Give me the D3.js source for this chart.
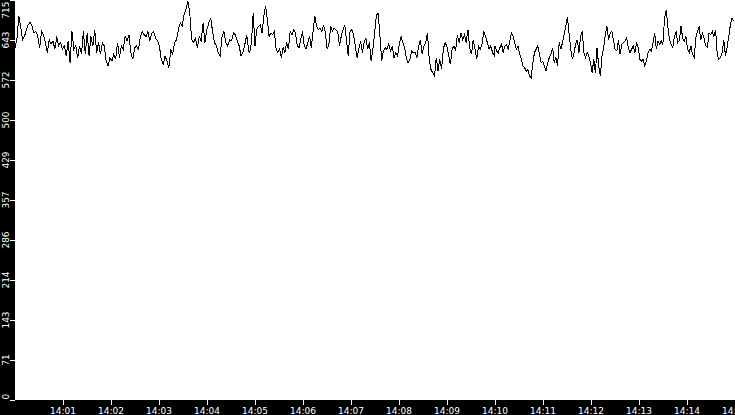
<!DOCTYPE html>
<meta charset="utf-8">
<style>
    body { margin: 0; background: #fff; }
    svg { display: block; }
    .axis text { fill: #fff; font: 9px "DejaVu Sans", sans-serif; }
    .axis line { stroke: #fff; shape-rendering: crispEdges; }
    .line { fill: none; stroke: #000; stroke-width: 1; shape-rendering: crispEdges; }
</style>
<body>
<script src="https://cdn.jsdelivr.net/npm/d3@7"></script>
<script>
    // values, three stretches of the trace
    // each stretch is evenly spaced between its first and last second after 14:00
    var spanA = [0.6, 292.7];
    var valuesA = [629, 643, 685, 667, 643, 649, 661, 670, 674, 667,
        655, 658, 649, 629, 658, 652, 638, 620, 643, 635,
        641, 626, 649, 632, 638, 626, 632, 614, 641, 602,
        658, 626, 632, 611, 632, 617, 658, 617, 655, 614,
        649, 632, 661, 620, 638, 617, 638, 632, 605, 596,
        611, 605, 617, 608, 638, 611, 632, 626, 649, 641,
        652, 620, 608, 629, 632, 626, 649, 658, 652, 649,
        658, 641, 655, 658, 646, 641, 632, 608, 599, 614,
        605, 593, 626, 617, 638, 643, 661, 673, 667, 688,
        697, 712, 691, 643, 638, 646, 629, 649, 641, 673,
        638, 661, 673, 682, 658, 638, 632, 620, 614, 649,
        658, 638, 632, 643, 641, 655, 652, 641, 632, 614,
        620, 635, 652, 623];

    var spanB = [294.0, 599.8];
    var valuesB = [620, 638, 691, 632, 661, 667, 670, 655, 685, 704,
        679, 649, 655, 652, 658, 626, 620, 626, 611, 629,
        620, 638, 626, 658, 652, 661, 655, 632, 629, 643,
        658, 632, 626, 638, 649, 629, 658, 686, 667, 661,
        664, 658, 670, 655, 626, 635, 667, 658, 664, 661,
        658, 632, 649, 661, 670, 643, 614, 658, 661, 652,
        632, 611, 626, 641, 620, 638, 646, 626, 638, 605,
        626, 655, 688, 690, 649, 605, 623, 629, 626, 635,
        623, 632, 611, 620, 614, 635, 649, 638, 629, 611,
        602, 608, 623, 620, 620, 611, 632, 643, 617, 632,
        638, 655, 608, 590, 584, 578, 611, 587, 608, 590,
        626, 638, 632, 617, 599, 626, 632, 623, 652, 638,
        655, 643, 652, 638, 661, 629, 617, 643, 626, 608,
        632, 626, 635, 658, 649, 638, 626, 632, 620, 614];

    var spanC = [600.6, 899.0];
    var valuesC = [632, 623, 620, 629, 635, 620, 632, 635, 626, 641,
        655, 649, 638, 626, 632, 617, 608, 596, 593, 587,
        590, 578, 575, 602, 620, 626, 632, 617, 602, 605,
        596, 587, 602, 611, 617, 629, 602, 611, 596, 638,
        626, 638, 652, 667, 684, 655, 626, 608, 620, 635,
        643, 620, 649, 658, 620, 611, 620, 614, 602, 584,
        608, 584, 629, 596, 578, 614, 629, 652, 667, 643,
        655, 658, 641, 626, 623, 643, 617, 635, 638, 641,
        646, 629, 620, 626, 632, 620, 638, 629, 608, 605,
        608, 596, 605, 620, 626, 623, 638, 655, 626, 641,
        635, 641, 635, 682, 696, 667, 643, 635, 629, 649,
        658, 638, 641, 667, 646, 641, 649, 626, 620, 632,
        617, 611, 646, 658, 667, 643, 655, 646, 632, 629,
        655, 652, 658, 649, 661, 617, 608, 611, 620, 643,
        614, 629, 649, 670, 682, 676];

    var yTicks = [0, 71.5, 143, 214.5, 286, 357.5, 429, 500.5, 572, 643.5, 715];
    var xTickMinutes = [1, 2, 3, 4, 5, 6, 7, 8, 9, 10, 11, 12, 13, 14, 15];

    var width = 735, height = 415;
    var stripLeft = 15, stripBottom = 15;
    var t0 = new Date(2024, 0, 1, 14, 0, 0);

    // put the stretches together as [time, value]
    var points = [];
    [[spanA, valuesA], [spanB, valuesB], [spanC, valuesC]].forEach(function (s) {
        var span = s[0], vals = s[1];
        var step = (span[1] - span[0]) / (vals.length - 1);
        vals.forEach(function (v, i) {
            points.push([new Date(t0.getTime() + (span[0] + i * step) * 1000), v]);
        });
    });

    var svg = d3.select("body").append("svg")
        .attr("width", width)
        .attr("height", height);

    var x = d3.scaleTime()
        .domain([t0, d3.timeMinute.offset(t0, 15)])
        .range([stripLeft - 0.5, width - 0.5]);

    var y = d3.scaleLinear()
        .domain([0, 715])
        .range([height - stripBottom - 0.5, -0.5]);

    svg.append("path")
        .datum(points)
        .attr("class", "line")
        .attr("d", d3.line()
            .x(d => x(d[0]))
            .y(d => y(d[1])));

    // black strips under the axes
    svg.append("rect")
        .attr("x", 0).attr("y", height - stripBottom)
        .attr("width", width).attr("height", stripBottom)
        .attr("fill", "#000");
    svg.append("rect")
        .attr("x", 0).attr("y", 0)
        .attr("width", stripLeft).attr("height", height)
        .attr("fill", "#000");

    // bottom axis
    var xAxis = svg.append("g")
        .attr("class", "axis")
        .attr("transform", "translate(0," + (height - stripBottom) + ")")
        .call(d3.axisBottom(x)
            .tickValues(xTickMinutes.map(m => d3.timeMinute.offset(t0, m)))
            .tickFormat(d3.timeFormat("%H:%M"))
            .tickSize(5)
            .tickPadding(1));
    xAxis.select(".domain").remove();
    xAxis.selectAll("text").attr("dy", "0.85em");

    // left axis, labels turned up the strip
    var yAxis = svg.append("g")
        .attr("class", "axis")
        .attr("transform", "translate(" + stripLeft + ",0)")
        .call(d3.axisLeft(y)
            .tickValues(yTicks)
            .tickFormat(d => Math.floor(d))
            .tickSize(5));
    yAxis.select(".domain").remove();
    yAxis.selectAll("text")
        .attr("x", null).attr("dy", null)
        .attr("transform", "translate(-6,0) rotate(-90)")
        .attr("text-anchor", function (d, i) {
            if (i === 0) return "start";
            if (i === yTicks.length - 1) return "end";
            return "middle";
        })
        .attr("y", 0)
        .attr("x", function (d, i) {
            if (i === 0) return 0.5;
            if (i === yTicks.length - 1) return -1.5;
            return 0;
        });
</script>
</body>
